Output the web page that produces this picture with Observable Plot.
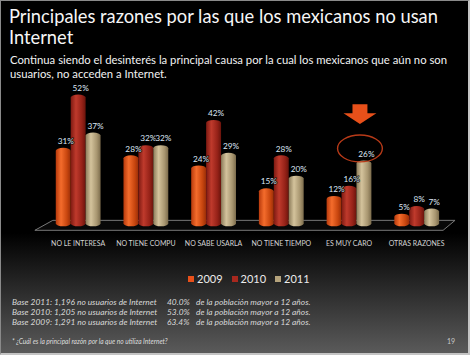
<!DOCTYPE html>
<html><head><meta charset="utf-8">
<script src="https://cdn.jsdelivr.net/npm/d3@7"></script>
<script src="https://cdn.jsdelivr.net/npm/@observablehq/plot@0.6"></script>
<style>
body{margin:0;background:#fff}
#slide{position:relative;width:470px;height:355px;box-sizing:border-box;border-left:1px solid #8a8a8a;border-top:1px solid #8a8a8a;border-right:2px solid #c4c4c4;border-bottom:2px solid #c4c4c4;background:linear-gradient(to bottom,#000 0px,#000 232px,#5a5a5a 352px);overflow:hidden;font-family:Lato,sans-serif;color:#fff}
#title{position:absolute;left:8px;top:5px;font-size:18.3px;line-height:21px;color:#f6f6f6;white-space:nowrap}
#sub{position:absolute;left:9px;top:52px;font-size:11.3px;line-height:14px;color:#f2f2f2;white-space:nowrap}
#chart{position:absolute;left:-1px;top:69px}
#legend{position:absolute;left:187px;top:271px;display:flex;gap:9px;font-size:11px;color:#ececec}
#legend span{display:flex;align-items:center;gap:3px}
#legend i{display:inline-block;width:6px;height:6px}
.note{position:absolute;left:11px;font-style:italic;font-size:8.4px;color:#d8d8d8;white-space:nowrap}
.note b{font-weight:normal;position:absolute;white-space:nowrap}
#q{position:absolute;left:11px;top:336px;font-style:italic;font-size:6.6px;color:#dedede;white-space:nowrap}
#pg{position:absolute;left:446px;top:336px;font-size:7px;color:#c8c8c8}
</style></head>
<body>
<div id="slide">
  <div id="title">Principales razones por las que los mexicanos no usan<br>Internet</div>
  <div id="sub">Continua siendo el desinterés la principal causa por la cual los mexicanos que aún no son<br>usuarios, no acceden a Internet.</div>
  <div id="chart"></div>
  <div id="legend"></div>
  <div id="notes"></div>
  <div id="q">* ¿Cuál es la principal razón por la que no utiliza Internet?</div>
  <div id="pg">19</div>
</div>
<script>
const categories = ["NO LE INTERESA","NO TIENE COMPU","NO SABE USARLA","NO TIENE TIEMPO","ES MUY CARO","OTRAS RAZONES"];
const years = ["2009","2010","2011"];
const v2009 = [31,28,24,15,12,5];
const v2010 = [52,32,42,28,16,8];
const v2011 = [37,32,29,20,26,7];
const colors = ["#E8501A","#A8281E","#B5A37C"];
const baseText = ["Base 2011: 1,196 no usuarios de Internet","Base 2010: 1,205 no usuarios de Internet","Base 2009: 1,291 no usuarios de Internet"];
const basePct = ["40.0%","53.0%","63.4%"];
const baseTail = "de la población mayor a 12 años.";

const series = [v2009, v2010, v2011];
const data = categories.flatMap((c, i) => years.map((y, j) => ({cat: c, year: y, v: series[j][i]})));

const plot = Plot.plot({
  width: 470, height: 185,
  marginLeft: 53, marginRight: 28, marginTop: 17, marginBottom: 28,
  style: {background: "transparent", color: "#d4d4d4", fontFamily: "Lato, sans-serif", fontSize: "7px", overflow: "visible"},
  fx: {domain: categories, paddingInner: 0.33, paddingOuter: 0, axis: "bottom", label: null, tickSize: 0, tickPadding: 14},
  x: {domain: years, padding: 0, axis: null},
  y: {domain: [0, 55], axis: null},
  color: {domain: years, range: years.map(y => `url(#g${y})`)},
  marks: [
    Plot.barY(data, {fx: "cat", x: "year", y: "v", fill: "year", rx: 7.5, ry: 3}),
    Plot.text(data, {fx: "cat", x: "year", y: "v", text: d => d.v + "%", dy: -7, dx: 2, fill: "#dde6f4", fontSize: 8.3, letterSpacing: "-0.3px", stroke: "#000", strokeWidth: 1.2})
  ]
});
const svg = plot.tagName.toLowerCase() === "svg" ? plot : plot.querySelector("svg");
const s = d3.select(svg);
s.selectAll("text").style("letter-spacing", null);
const defs = s.append("defs");
const shades = [["#b83a0c","#f46c2c","#c8460f","#9a2e08"],["#7e1a12","#bf3a2c","#962218","#6a140c"],["#8c7c5a","#d4c39c","#a89670","#7c6c4c"]];
years.forEach((y, j) => {
  const g = defs.append("linearGradient").attr("id", "g" + y).attr("x1", 0).attr("x2", 1).attr("y1", 0).attr("y2", 0);
  [[0, shades[j][0]], [0.35, shades[j][1]], [0.75, shades[j][2]], [1, shades[j][3]]].forEach(([o, c]) => g.append("stop").attr("offset", o).attr("stop-color", c));
});
const fxS = plot.scale("fx"), xS = plot.scale("x"), yS = plot.scale("y");
const r0 = fxS.range[0], r1 = fxS.range[1], y0 = yS.apply(0);
s.insert("path", ":first-child")
  .attr("d", `M${r0},${y0 - 6}L${r1 + 15},${y0 - 6}L${r1 + 3},${y0 + 4}L${r0 - 18},${y0 + 4}Z`)
  .attr("fill", "#080808").attr("stroke", "#7a7a7a").attr("stroke-width", 1);
const bx = (c, y) => fxS.apply(c) + xS.apply(y) - xS.range[0] + xS.bandwidth / 2;
const cx = bx("ES MUY CARO", "2011") - 4;
const cy = yS.apply(26) - 12;
s.append("ellipse").attr("cx", cx).attr("cy", cy).attr("rx", 22.5).attr("ry", 13.5)
  .attr("fill", "none").attr("stroke", "#b83a18").attr("stroke-width", 1.4);
const tip = cy - 24.5;
s.append("path")
  .attr("d", `M${cx - 7.5},${tip - 20}L${cx + 7.5},${tip - 20}L${cx + 7.5},${tip - 11}L${cx + 16.5},${tip - 11}L${cx},${tip}L${cx - 16.5},${tip - 11}L${cx - 7.5},${tip - 11}Z`)
  .attr("fill", "#e8501a");
document.getElementById("chart").appendChild(plot);

const lg = document.getElementById("legend");
years.forEach((y, j) => {
  const sp = document.createElement("span");
  sp.innerHTML = `<i style="background:${colors[j]}"></i>${y}`;
  lg.appendChild(sp);
});
const notes = document.getElementById("notes");
baseText.forEach((t, i) => {
  const d = document.createElement("div");
  d.className = "note";
  d.style.top = (296 + i * 10) + "px";
  d.innerHTML = `<b style="left:0">${t}</b><b style="left:155px">${basePct[i]}</b><b style="left:184px">${baseTail}</b>`;
  notes.appendChild(d);
});
</script>
</body></html>
